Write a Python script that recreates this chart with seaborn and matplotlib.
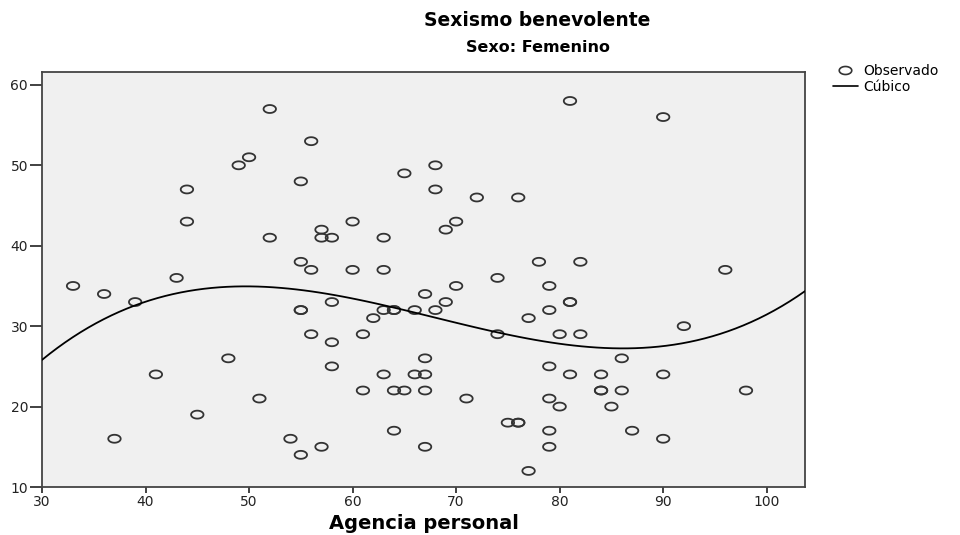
import numpy as np
import pandas as pd
import matplotlib
matplotlib.use("Agg")
import matplotlib.pyplot as plt
from matplotlib.path import Path
from matplotlib.lines import Line2D
import seaborn as sns

# Data (Agencia personal, Sexismo benevolente)
agencia = [33, 36, 39, 37, 41, 43, 44, 44, 45, 48, 49, 50, 51, 52, 52, 54, 55, 55, 55, 55, 55,
           56, 56, 56, 57, 57, 57, 58, 58, 58, 58, 60, 60, 61, 61, 62, 63, 63, 63, 63,
           64, 64, 64, 64, 65, 65, 66, 66, 67, 67, 67, 67, 67, 68, 68, 68, 69, 69, 70, 70,
           71, 72, 74, 74, 75, 76, 76, 76, 77, 77, 78, 79, 79, 79, 79, 79, 79, 80, 80,
           81, 81, 81, 81, 82, 82, 84, 84, 84, 85, 86, 86, 87, 90, 90, 90, 92, 96, 98]
sexismo = [35, 34, 33, 16, 24, 36, 43, 47, 19, 26, 50, 51, 21, 57, 41, 16, 14, 48, 38, 32, 32,
           53, 37, 29, 42, 41, 15, 41, 33, 28, 25, 43, 37, 29, 22, 31, 41, 37, 32, 24,
           32, 32, 22, 17, 22, 49, 32, 24, 34, 26, 24, 22, 15, 32, 50, 47, 42, 33, 43, 35,
           21, 46, 36, 29, 18, 18, 18, 46, 31, 12, 38, 35, 32, 25, 21, 17, 15, 29, 20,
           33, 33, 24, 58, 38, 29, 24, 22, 22, 20, 26, 22, 17, 56, 24, 16, 30, 37, 22]

title = "Sexismo benevolente"
subtitle = "Sexo: Femenino"
xlabel = "Agencia personal"
xticks = [30, 40, 50, 60, 70, 80, 90, 100]
yticks = [10, 20, 30, 40, 50, 60]
legend_labels = ["Observado", "Cúbico"]

df = pd.DataFrame({"x": agencia, "y": sexismo})

sns.set_style("white")
plt.rcParams["font.family"] = ["DejaVu Sans"]
plt.rcParams["text.color"] = "black"

fig = plt.figure(figsize=(9.6, 5.35), dpi=100)
ax = fig.add_axes([0.04375, 0.0897, 0.7948, 0.7757])
ax.set_facecolor("#f0f0f0")
ax.set_xlim(30, 103.7)
ax.set_ylim(10, 61.6)

# elliptical open-circle marker
t = np.linspace(0, 2 * np.pi, 60)
ell = Path(np.column_stack([np.cos(t), 0.64 * np.sin(t)]), closed=True)

sns.scatterplot(data=df, x="x", y="y", ax=ax, marker=ell, s=80,
                facecolor="none", edgecolor="#333333", linewidth=1.3, zorder=3)

sns.regplot(data=df, x="x", y="y", ax=ax, order=3, ci=None, truncate=False,
            scatter=False, line_kws=dict(color="black", lw=1.3, zorder=4))

ax.set_xlim(30, 103.7)
ax.set_ylim(10, 61.6)
ax.set_xticks(xticks)
ax.set_yticks(yticks)
ax.tick_params(axis="x", bottom=True, direction="out", length=4.5, width=1.3, color="#333333",
               labelsize=10, labelcolor="#222222", pad=1.5)
ax.tick_params(axis="y", left=True, direction="out", length=9, width=1.3, color="#333333",
               labelsize=10, labelcolor="#222222", pad=1)
for sp in ax.spines.values():
    sp.set_color("#444444")
    sp.set_linewidth(1.3)

ax.set_xlabel(xlabel, fontsize=14, fontweight="bold", labelpad=3, color="black")
ax.set_ylabel("")

fig.text(0.56, 0.962, title, ha="center", va="center", fontsize=13.5, fontweight="bold", color="black")
fig.text(0.56, 0.912, subtitle, ha="center", va="center", fontsize=11.5, fontweight="bold", color="black")

handles = [Line2D([], [], marker=ell, linestyle="none", markersize=9,
                  markerfacecolor="none", markeredgecolor="#333333", markeredgewidth=1.2),
           Line2D([], [], color="black", lw=1.2)]
leg = fig.legend(handles, legend_labels, loc="upper left", bbox_to_anchor=(0.86, 0.893),
                 frameon=False, fontsize=10, handlelength=1.8, handletextpad=0.4,
                 labelspacing=0.1, borderpad=0)
for txt in leg.get_texts():
    txt.set_color("black")

fig.savefig("out.png", dpi=100)
